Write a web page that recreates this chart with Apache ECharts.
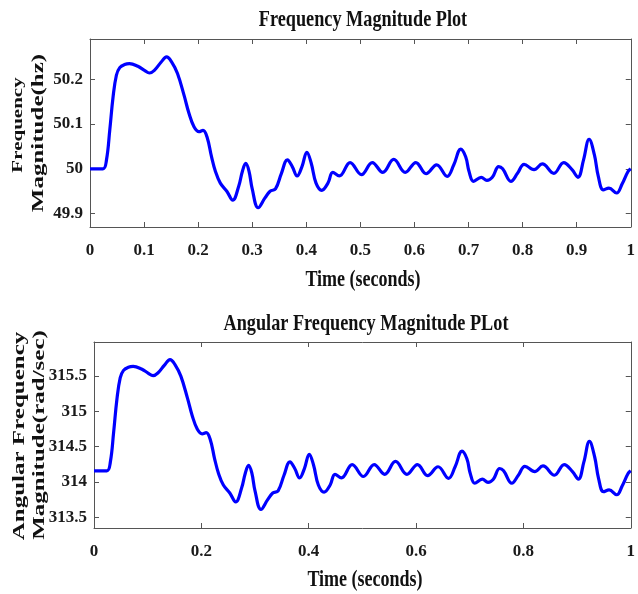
<!DOCTYPE html>
<html><head><meta charset="utf-8">
<script src="https://cdn.jsdelivr.net/npm/echarts@6/dist/echarts.min.js"></script>
<style>html,body{margin:0;padding:0;background:#fff}#c{width:638px;height:594px}</style>
</head><body><div id="c"></div>
<script>
const timeS = [0, 0.024, 0.0305, 0.0366, 0.0427, 0.0488, 0.055, 0.064, 0.073, 0.0885, 0.1007, 0.11, 0.119, 0.1313, 0.1416, 0.1514, 0.1618, 0.174, 0.183, 0.1923, 0.2015, 0.209, 0.2167, 0.2247, 0.232, 0.241, 0.253, 0.264, 0.275, 0.282, 0.288, 0.294, 0.300, 0.311, 0.3236, 0.333, 0.343, 0.354, 0.365, 0.374, 0.383, 0.392, 0.401, 0.409, 0.418, 0.4286, 0.44, 0.449, 0.461, 0.481, 0.502, 0.522, 0.5415, 0.5617, 0.583, 0.6026, 0.6215, 0.641, 0.6606, 0.6728, 0.6856, 0.6947, 0.701, 0.7094, 0.7234, 0.734, 0.744, 0.7558, 0.7631, 0.7784, 0.7906, 0.8028, 0.8211, 0.8364, 0.8578, 0.876, 0.8914, 0.9024, 0.9127, 0.923, 0.9328, 0.940, 0.9493, 0.9597, 0.9738, 0.984, 0.995, 1.0];
const freqHz = [50.0, 50.0, 50.02, 50.087, 50.161, 50.209, 50.226, 50.233, 50.235, 50.229, 50.22, 50.214, 50.22, 50.238, 50.25, 50.238, 50.213, 50.164, 50.124, 50.094, 50.083, 50.086, 50.07, 50.027, 49.994, 49.968, 49.95, 49.93, 49.961, 49.995, 50.012, 49.995, 49.955, 49.913, 49.935, 49.95, 49.955, 49.99, 50.02, 50.005, 49.984, 50.005, 50.037, 50.013, 49.968, 49.952, 49.968, 49.992, 49.984, 50.014, 49.987, 50.014, 49.992, 50.021, 49.992, 50.014, 49.989, 50.009, 49.983, 50.009, 50.044, 50.027, 49.994, 49.972, 49.981, 49.974, 49.981, 50.005, 50.0, 49.972, 49.99, 50.01, 49.998, 50.011, 49.99, 50.014, 49.998, 49.981, 50.02, 50.066, 50.031, 49.983, 49.953, 49.957, 49.946, 49.966, 49.994, 50.0];
const angFreq = [314.159, 314.159, 314.285, 314.706, 315.171, 315.473, 315.579, 315.623, 315.636, 315.598, 315.541, 315.504, 315.541, 315.654, 315.730, 315.654, 315.497, 315.190, 314.938, 314.750, 314.681, 314.699, 314.599, 314.329, 314.121, 313.958, 313.845, 313.719, 313.914, 314.128, 314.235, 314.128, 313.876, 313.612, 313.751, 313.845, 313.876, 314.096, 314.285, 314.191, 314.059, 314.191, 314.392, 314.241, 313.958, 313.857, 313.958, 314.109, 314.059, 314.247, 314.078, 314.247, 314.109, 314.291, 314.109, 314.247, 314.090, 314.216, 314.053, 314.216, 314.436, 314.329, 314.121, 313.983, 314.040, 313.996, 314.040, 314.191, 314.159, 313.983, 314.096, 314.222, 314.147, 314.228, 314.096, 314.247, 314.147, 314.040, 314.285, 314.574, 314.354, 314.053, 313.864, 313.889, 313.820, 313.945, 314.121, 314.159];
const xTicksTop = [0, 0.1, 0.2, 0.3, 0.4, 0.5, 0.6, 0.7, 0.8, 0.9, 1];
const xTicksBottom = [0, 0.2, 0.4, 0.6, 0.8, 1];
const yTicksTop = [49.9, 50, 50.1, 50.2];
const yTicksBottom = [313.5, 314, 314.5, 315, 315.5];
const titles = ['Frequency Magnitude Plot', 'Angular Frequency Magnitude PLot'];
const xName = 'Time (seconds)';
const yNamesTop = ['Frequency', 'Magnitude(hz)'];
const yNamesBottom = ['Angular Frequency', 'Magnitude(rad/sec)'];

const FONT = '"Liberation Serif", "Times New Roman", serif';
const AX = '#555';
const labelStyle = { fontFamily: FONT, fontWeight: 'bold', fontSize: 17, color: '#1a1a1a' };

function xAxes(gi, ticks, showLabel, pos) {
  return {
    type: 'value', gridIndex: gi, min: 0, max: 1, position: pos,
    axisLine: { show: true, onZero: false, lineStyle: { color: AX, width: 1 } },
    axisTick: { show: true, inside: true, length: 5, customValues: ticks, lineStyle: { color: AX } },
    axisLabel: { show: showLabel, customValues: ticks, margin: 15, ...labelStyle },
    splitLine: { show: false }
  };
}
function yAxes(gi, ticks, mn, mx, showLabel, pos) {
  return {
    type: 'value', gridIndex: gi, min: mn, max: mx, position: pos,
    axisLine: { show: true, onZero: false, lineStyle: { color: AX, width: 1 } },
    axisTick: { show: true, inside: true, length: 5, customValues: ticks, lineStyle: { color: AX } },
    axisLabel: { show: showLabel, customValues: ticks, margin: 7, ...labelStyle },
    splitLine: { show: false }
  };
}
function txt(text, x, y, size, rot, sc) {
  return {
    type: 'text', x: x, y: y, rotation: rot, scaleX: rot ? 1 : sc, scaleY: rot ? sc : 1,
    style: { text: text, font: 'bold ' + size + 'px ' + FONT, fill: '#111', align: 'center', verticalAlign: 'middle' }
  };
}

const chart = echarts.init(document.getElementById('c'), null, { renderer: 'canvas' });
chart.setOption({
  animation: false,
  backgroundColor: '#fff',
  grid: [
    { left: 90, top: 39, right: 2, height: 188 },
    { left: 94, top: 342, right: 2, height: 186 }
  ],
  xAxis: [
    xAxes(0, xTicksTop, true, 'bottom'),
    xAxes(0, xTicksTop, false, 'top'),
    xAxes(1, xTicksBottom, true, 'bottom'),
    xAxes(1, xTicksBottom, false, 'top')
  ],
  yAxis: [
    yAxes(0, yTicksTop, 49.87, 50.29, true, 'left'),
    yAxes(0, yTicksTop, 49.87, 50.29, false, 'right'),
    yAxes(1, yTicksBottom, 313.35, 315.98, true, 'left'),
    yAxes(1, yTicksBottom, 313.35, 315.98, false, 'right')
  ],
  series: [
    { type: 'line', xAxisIndex: 0, yAxisIndex: 0, showSymbol: false, smooth: 0.4,
      lineStyle: { color: '#0000ff', width: 3.2 }, data: timeS.map((t, i) => [t, freqHz[i]]) },
    { type: 'line', xAxisIndex: 2, yAxisIndex: 2, showSymbol: false, smooth: 0.4,
      lineStyle: { color: '#0000ff', width: 3.2 }, data: timeS.map((t, i) => [t, angFreq[i]]) }
  ],
  graphic: [
    txt(titles[0], 363, 20, 24, 0, 0.76),
    txt(xName, 363, 280, 24, 0, 0.75),
    txt(titles[1], 366, 324, 24, 0, 0.76),
    txt(xName, 365, 580, 24, 0, 0.75),
    txt(yNamesTop[0], 18, 125, 21, Math.PI / 2, 0.68),
    txt(yNamesTop[1], 39, 133, 25, Math.PI / 2, 0.68),
    txt(yNamesBottom[0], 20, 436, 25, Math.PI / 2, 0.68),
    txt(yNamesBottom[1], 40, 435, 25, Math.PI / 2, 0.68)
  ]
});
</script>
</body></html>
